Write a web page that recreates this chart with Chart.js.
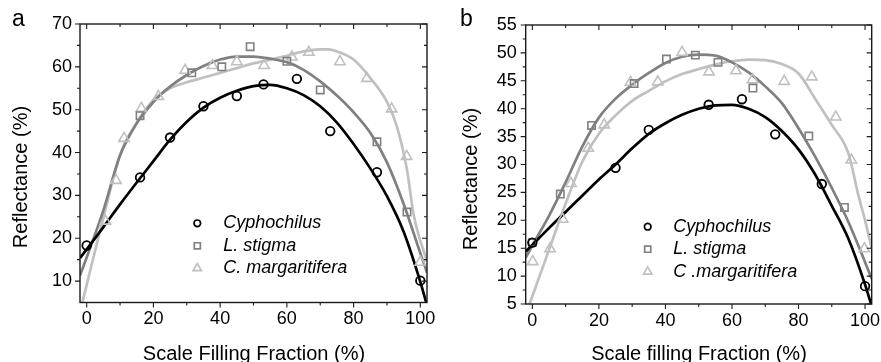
<!DOCTYPE html>
<html>
<head>
<meta charset="utf-8">
<script src="https://cdn.jsdelivr.net/npm/chart.js@4.4.0/dist/chart.umd.min.js"></script>
<style>
  html, body { margin: 0; padding: 0; background: #fff; }
  #wrap { position: relative; width: 881px; height: 362px; overflow: hidden;
          font-family: "Liberation Sans", Arial, sans-serif; color: #000; }
  canvas { position: absolute; top: 0; }
  .txt { position: absolute; white-space: nowrap; line-height: 1; }
  .ytitle { font-size: 20px; transform: translate(-50%, -50%) rotate(-90deg); }
  .xtitle { font-size: 20px; transform: translate(-50%, -50%); }
  .panel { font-size: 23px; line-height: 23px; }
</style>
</head>
<body>
<div id="wrap">
  <canvas id="chartA" width="440" height="362" style="left:0"></canvas>
  <canvas id="chartB" width="441" height="362" style="left:440px"></canvas>
  <div class="txt panel" style="left:12px;top:6.5px">a</div>
  <div class="txt panel" style="left:460px;top:6.5px">b</div>
  <div class="txt ytitle" style="left:19.5px;top:176.5px">Reflectance (%)</div>
  <div class="txt xtitle" style="left:254px;top:352.5px">Scale Filling Fraction (%)</div>
  <div class="txt ytitle" style="left:469.5px;top:179px">Reflectance (%)</div>
  <div class="txt xtitle" style="left:699px;top:353.3px">Scale filling Fraction (%)</div>
</div>
<script>
// --- panel a: measured points ---
const aCyphoX = [0, 16, 25, 35, 45, 53, 63, 73, 87, 100];
const aCyphoY = [18.3, 34.2, 43.5, 50.8, 53.2, 55.9, 57.2, 45.0, 35.4, 10.1];
const aStigmaX = [16, 31.5, 40.5, 49, 60, 70, 87, 96];
const aStigmaY = [48.6, 58.6, 60.0, 64.7, 61.3, 54.6, 42.5, 26.1];
const aMargX = [5.6, 8.8, 11.2, 16.4, 21.5, 29.5, 37.7, 45, 53.2, 61.5, 66.6, 75.9, 84, 91.4, 95.9, 100];
const aMargY = [24.0, 33.5, 43.3, 50.3, 53.1, 59.2, 60.3, 61.2, 60.3, 62.3, 63.4, 61.2, 57.3, 50.2, 39.1, 14.4];

// --- panel a: fitted curves ---
const aFitX = [-2, 0, 5, 10, 15, 20, 25, 30, 35, 40, 45, 50, 55, 60, 65, 70, 75, 80, 85, 90, 95, 100, 102];
const aCyphoFit = [15.4, 17.4, 22.6, 27.9, 33.0, 38.0, 43.0, 47.2, 50.5, 52.8, 54.4, 55.5, 55.8, 55.0, 53.4, 50.8, 47.0, 42.0, 36.3, 29.8, 21.5, 9.8, 4.3];
const aStigmaFit = [11.3, 15.5, 26.5, 39.3, 46.8, 51.8, 55.4, 58.1, 60.2, 61.7, 62.4, 62.4, 61.9, 61.1, 59.3, 56.6, 53.3, 49.4, 44.6, 37.7, 28.0, 16.5, 12.0];
const aMargFitX = [-2, 0, 5, 10, 15, 20, 25, 30, 35, 40, 45, 50, 55, 60, 65, 70, 72.5, 75, 80, 85, 90, 93, 96, 98, 102];
const aMargFit = [2.8, 9.1, 24.8, 39.5, 47.0, 52.3, 55.0, 56.4, 57.5, 58.6, 59.7, 60.8, 61.7, 62.6, 63.6, 64.1, 64.1, 63.6, 61.7, 57.4, 51.8, 46.0, 36.0, 25.5, 14.5];

// --- panel b: measured points ---
const bCyphoX = [0, 25, 35, 53, 63, 73, 87, 100];
const bCyphoY = [16.0, 29.4, 36.2, 40.7, 41.7, 35.4, 26.5, 8.2];
const bStigmaX = [0, 8.4, 17.8, 30.6, 40.3, 49, 55.8, 66.3, 83.1, 93.8];
const bStigmaY = [16.0, 24.7, 37.0, 44.5, 48.9, 49.6, 48.3, 43.7, 35.1, 22.3];
const bMargX = [0.1, 5.3, 9.1, 11.6, 16.8, 21.6, 29.5, 37.7, 45, 53.1, 61.2, 66.2, 75.7, 84, 91.2, 95.9, 99.8];
const bMargY = [12.6, 14.9, 20.2, 26.6, 32.9, 37.1, 44.7, 44.8, 50.1, 46.6, 46.8, 45.2, 44.9, 45.7, 38.5, 30.8, 14.9];

// --- panel b: fitted curves ---
const bFitX = [-2, 0, 5, 10, 15, 20, 25, 30, 35, 40, 45, 50, 55, 60, 65, 70, 75, 80, 85, 90, 95, 100, 102];
const bCyphoFit = [14.4, 15.6, 18.6, 21.5, 24.4, 27.3, 30.0, 32.9, 35.5, 37.4, 38.9, 40.0, 40.6, 40.7, 40.0, 38.5, 36.0, 32.7, 28.2, 22.6, 16.7, 8.5, 4.6];
const bStigmaFit = [13.3, 15.5, 20.8, 26.8, 33.2, 38.4, 41.8, 44.3, 46.4, 48.2, 49.3, 49.7, 49.5, 48.3, 46.5, 44.0, 41.0, 36.5, 31.4, 25.8, 19.7, 12.5, 9.5];
const bMargFitX = [-2, 0, 5, 10, 15, 20, 25, 30, 35, 40, 45, 50, 55, 60, 65, 70, 75, 80, 85, 90, 95, 98, 100, 102];
const bMargFit = [3.2, 6.4, 14.7, 23.0, 30.5, 35.5, 38.8, 41.4, 43.2, 44.9, 46.2, 47.1, 47.9, 48.5, 48.8, 48.7, 48.0, 46.3, 41.8, 37.1, 32.0, 24.5, 20.0, 15.0];

// --- names and ticks ---
const aNames = ['Cyphochilus', 'L. stigma', 'C. margaritifera'];
const bNames = ['Cyphochilus', 'L. stigma', 'C .margaritifera'];
const xMajor = [0, 20, 40, 60, 80, 100];
const xMinor = [10, 30, 50, 70, 90];
const aYMajor = [10, 20, 30, 40, 50, 60, 70];
const aYMinor = [15, 25, 35, 45, 55, 65];
const bYMajor = [5, 10, 15, 20, 25, 30, 35, 40, 45, 50, 55];
const bYMinor = [7.5, 12.5, 17.5, 22.5, 27.5, 32.5, 37.5, 42.5, 47.5, 52.5];

const BLACK = '#000000';
const GRAY = '#808080';
const LIGHT = '#c0c0c0';
const FONT = '"Liberation Sans", Arial, sans-serif';

Chart.defaults.font.family = FONT;
Chart.defaults.font.size = 18;
Chart.defaults.color = '#000';

const pts = (xs, ys) => xs.map((x, i) => ({ x: x, y: ys[i] }));

// marker drawn the same way Chart.js draws its point styles
function drawMarker(ctx, style, x, y, r) {
    ctx.beginPath();
    if (style === 'circle') {
        ctx.arc(x, y, r, 0, Math.PI * 2);
    } else if (style === 'rect') {
        const s = r * Math.SQRT1_2;
        ctx.rect(x - s, y - s, 2 * s, 2 * s);
    } else {
        let a = 0;
        ctx.moveTo(x + Math.sin(a) * r, y - Math.cos(a) * r);
        a += Math.PI * 2 / 3;
        ctx.lineTo(x + Math.sin(a) * r, y - Math.cos(a) * r);
        a += Math.PI * 2 / 3;
        ctx.lineTo(x + Math.sin(a) * r, y - Math.cos(a) * r);
        ctx.closePath();
    }
    ctx.stroke();
}

// box round the plot, ticks out on left/bottom and in on top/right
const framePlugin = {
    id: 'frame',
    afterDraw(chart, args, opts) {
        const { ctx, chartArea: { left, right, top, bottom }, scales: { x, y } } = chart;
        ctx.save();
        ctx.strokeStyle = '#1a1a1a';
        ctx.lineWidth = 1.4;
        ctx.strokeRect(left, top, right - left, bottom - top);
        ctx.lineWidth = 1.1;
        ctx.beginPath();
        x.ticks.forEach(t => {
            const px = x.getPixelForValue(t.value);
            const len = opts.xMajor.includes(t.value) ? 5 : 3;
            ctx.moveTo(px, bottom); ctx.lineTo(px, bottom + len);
            ctx.moveTo(px, top); ctx.lineTo(px, top + len);
        });
        y.ticks.forEach(t => {
            const py = y.getPixelForValue(t.value);
            const len = opts.yMajor.includes(t.value) ? 5 : 3;
            ctx.moveTo(left, py); ctx.lineTo(left - len, py);
            ctx.moveTo(right, py); ctx.lineTo(right - len, py);
        });
        ctx.stroke();
        ctx.restore();
    }
};

// legend placed inside the plot area
const legendPlugin = {
    id: 'inLegend',
    afterDatasetsDraw(chart, args, opts) {
        const { ctx, chartArea } = chart;
        ctx.save();
        ctx.font = 'italic 18px ' + FONT;
        ctx.textBaseline = 'middle';
        ctx.textAlign = 'left';
        chart.data.datasets.filter(ds => !ds.showLine).forEach((ds, i) => {
            const x = chartArea.left + opts.left;
            const y = chartArea.top + opts.top + i * opts.gap;
            ctx.strokeStyle = ds.borderColor;
            ctx.lineWidth = 1.7;
            drawMarker(ctx, ds.pointStyle, x, y, opts.sizes[i]);
            ctx.fillStyle = '#000';
            ctx.fillText(ds.label, x + opts.textGap, y);
        });
        ctx.restore();
    }
};

function makeChart(id, s) {
    const markers = [
        { label: s.names[0], data: pts(s.cX, s.cY), pointStyle: 'circle', pointRadius: 4.3, borderColor: BLACK, borderWidth: 1.8 },
        { label: s.names[1], data: pts(s.sX, s.sY), pointStyle: 'rect', pointRadius: 5.2, borderColor: GRAY, borderWidth: 1.6 },
        { label: s.names[2], data: pts(s.mX, s.mY), pointStyle: 'triangle', pointRadius: 6, borderColor: LIGHT, borderWidth: 1.6 }
    ].map(d => Object.assign(d, { showLine: false, backgroundColor: 'rgba(0,0,0,0)', pointBorderWidth: d.borderWidth, order: 1 }));

    const fits = [
        { label: s.names[0] + ' fit', data: pts(s.fitX, s.cFit), borderColor: BLACK },
        { label: s.names[1] + ' fit', data: pts(s.fitX, s.sFit), borderColor: GRAY },
        { label: s.names[2] + ' fit', data: pts(s.mFitX, s.mFit), borderColor: LIGHT }
    ].map(d => Object.assign(d, { showLine: true, pointRadius: 0, borderWidth: 2.7, cubicInterpolationMode: 'monotone', fill: false, order: 2 }));

    const noGrid = { display: false, drawTicks: false, tickLength: 0 };

    return new Chart(document.getElementById(id), {
        type: 'scatter',
        data: { datasets: fits.concat(markers) },
        options: {
            responsive: false,
            animation: false,
            events: [],
            devicePixelRatio: 1,
            layout: { padding: { left: 0, right: s.padRight, top: s.padTop, bottom: 0 } },
            plugins: {
                legend: { display: false },
                tooltip: { enabled: false },
                frame: { xMajor: xMajor, yMajor: s.yMajor },
                inLegend: s.legend
            },
            scales: {
                x: {
                    type: 'linear', min: -2, max: 102,
                    grid: noGrid, border: { display: false },
                    afterBuildTicks: sc => { sc.ticks = xMajor.concat(xMinor).sort((p, q) => p - q).map(v => ({ value: v })); },
                    afterFit: sc => { sc.height = s.xHeight; sc.paddingLeft = 0; sc.paddingRight = 0; },
                    ticks: { autoSkip: false, maxRotation: 0, padding: 6, font: { size: 18 },
                             callback: v => xMajor.includes(v) ? String(v) : '' }
                },
                y: {
                    type: 'linear', min: 5, max: s.yMax,
                    grid: noGrid, border: { display: false },
                    afterBuildTicks: sc => { sc.ticks = s.yMajor.concat(s.yMinor).sort((p, q) => p - q).map(v => ({ value: v })); },
                    afterFit: sc => { sc.width = s.yWidth; sc.paddingTop = 0; sc.paddingBottom = 0; },
                    ticks: { autoSkip: false, padding: s.yPad, font: { size: 18 },
                             callback: v => s.yMajor.includes(v) ? String(v) : '' }
                }
            }
        },
        plugins: [framePlugin, legendPlugin]
    });
}

makeChart('chartA', {
    names: aNames,
    cX: aCyphoX, cY: aCyphoY, sX: aStigmaX, sY: aStigmaY, mX: aMargX, mY: aMargY,
    fitX: aFitX, cFit: aCyphoFit, sFit: aStigmaFit, mFitX: aMargFitX, mFit: aMargFit,
    yMax: 70, yMajor: aYMajor, yMinor: aYMinor, yPad: 8,
    padRight: 13, padTop: 24, xHeight: 59.5, yWidth: 80,
    legend: { left: 117.3, top: 199.3, gap: 22.5, textGap: 26, sizes: [3.3, 4.3, 4.8] }
});

makeChart('chartB', {
    names: bNames,
    cX: bCyphoX, cY: bCyphoY, sX: bStigmaX, sY: bStigmaY, mX: bMargX, mY: bMargY,
    fitX: bFitX, cFit: bCyphoFit, sFit: bStigmaFit, mFitX: bMargFitX, mFit: bMargFit,
    yMax: 55, yMajor: bYMajor, yMinor: bYMinor, yPad: 9,
    padRight: 9.3, padTop: 25, xHeight: 58, yWidth: 85.7,
    legend: { left: 122, top: 201.7, gap: 22.5, textGap: 25.6, sizes: [3.3, 4.3, 4.8] }
});
</script>
</body>
</html>
